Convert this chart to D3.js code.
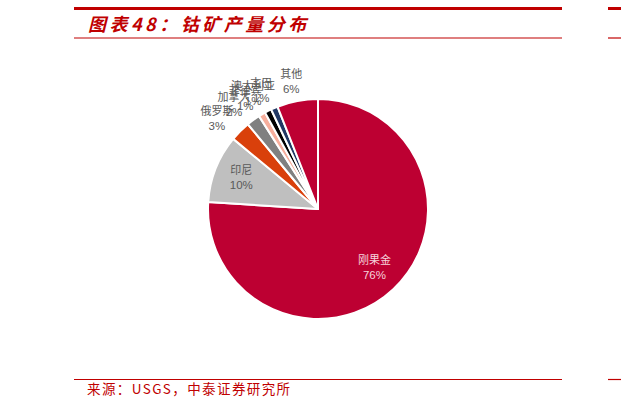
<!DOCTYPE html>
<html>
<head>
<meta charset="utf-8">
<script src="https://cdn.jsdelivr.net/npm/d3@7"></script>
<style>
  html, body { margin: 0; padding: 0; background: #fff; }
  svg { display: block; }
</style>
</head>
<body>
<svg id="chart" width="621" height="410"></svg>
<script>
// 数据
const countries = ["刚果金", "印尼", "俄罗斯", "加拿大", "菲律宾", "澳大利亚", "古巴", "其他"];
const shares = [76, 10, 3, 2, 1, 1, 1, 6];
const sliceColors = ["#bd0032", "#bfbfbf", "#d9400b", "#808080", "#f7ae9c", "#000000", "#203864", "#bd0032"];
const title = "图表48：钴矿产量分布";
const source = "来源：USGS，中泰证券研究所";

const svg = d3.select("#chart");
const red = "#c00000";

// 页眉、页脚的红线
const ruleRows = [
    { y: 8.5, w: 3 },
    { y: 38, w: 1.2 },
    { y: 379.5, w: 1.2 }
];
ruleRows.forEach(r => {
    [[74, 562], [608, 621]].forEach(seg => {
        svg.append("line")
            .attr("x1", seg[0]).attr("x2", seg[1])
            .attr("y1", r.y).attr("y2", r.y)
            .attr("stroke", red)
            .attr("stroke-width", r.w);
    });
});

// 标题
svg.append("text")
    .attr("x", 88)
    .attr("y", 31)
    .attr("fill", red)
    .attr("font-family", "'Noto Sans CJK SC', sans-serif")
    .attr("font-size", 18)
    .attr("font-weight", "bold")
    .attr("font-style", "italic")
    .attr("letter-spacing", 3.5)
    .text(title);

// 来源
svg.append("text")
    .attr("x", 87)
    .attr("y", 394)
    .attr("fill", red)
    .attr("font-family", "'Noto Sans CJK SC', sans-serif")
    .attr("font-size", 13.5)
    .attr("letter-spacing", 1.4)
    .text(source);

// 饼图
const cx = 318, cy = 209, R = 110;
const pie = d3.pie().sort(null).value(d => d.v);
const data = pie(countries.map((c, i) => ({ name: c, v: shares[i], color: sliceColors[i] })));
const arc = d3.arc().innerRadius(0).outerRadius(R);

const g = svg.append("g").attr("transform", `translate(${cx},${cy})`);

g.selectAll("path.slice")
    .data(data)
    .enter().append("path")
    .attr("class", "slice")
    .attr("d", arc)
    .attr("fill", d => d.data.color)
    .attr("stroke", "#fff")
    .attr("stroke-width", 2)
    .attr("stroke-linejoin", "round");

// 标签：大扇区放内部，小扇区放外部（小扇区标签互相重叠，和原图一致）
const inArc = d3.arc().innerRadius(R * 0.75).outerRadius(R * 0.75);
const outR = 133;

const labels = g.selectAll("g.label")
    .data(data)
    .enter().append("g")
    .attr("class", "label")
    .attr("transform", d => {
        const a = (d.startAngle + d.endAngle) / 2;
        if (d.data.v >= 10) {
            const c = inArc.centroid(d);
            return `translate(${c[0]},${c[1] - 2})`;
        }
        const x = Math.sin(a) * outR + Math.sin(a) * 10;
        const y = -Math.cos(a) * outR + 3;
        return `translate(${x},${y})`;
    });

labels.each(function (d) {
    const sel = d3.select(this);
    const fill = d.data.name === "刚果金" ? "#f6d3db" : "#595959";
    sel.append("text")
        .attr("text-anchor", "middle")
        .attr("y", -3)
        .attr("fill", fill)
        .attr("font-family", "'Noto Sans CJK SC', sans-serif")
        .attr("font-size", 11)
        .text(d.data.name);
    sel.append("text")
        .attr("text-anchor", "middle")
        .attr("y", 12)
        .attr("fill", fill)
        .attr("font-family", "'Liberation Sans', Arial, sans-serif")
        .attr("font-size", 11.5)
        .text(d.data.v + "%");
});
</script>
</body>
</html>
